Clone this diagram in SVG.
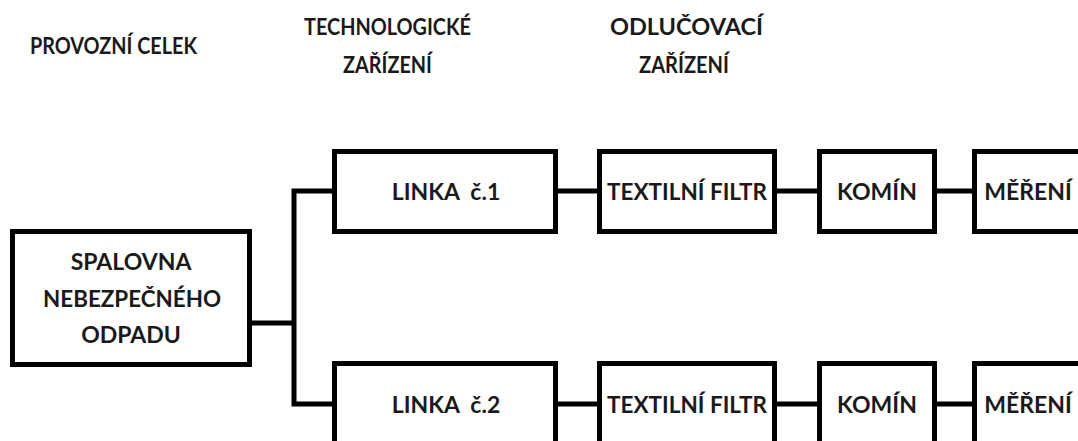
<svg xmlns="http://www.w3.org/2000/svg" width="1078" height="441" viewBox="0 0 1078 441">
<style>
.box{fill:#fff;stroke:#000;stroke-width:5}
.con{fill:none;stroke:#000;stroke-width:5;stroke-linejoin:miter;stroke-linecap:butt}
text{font-family:Lato,"Open Sans","Liberation Sans",sans-serif;font-weight:bold;font-size:23px;fill:#1a1a1a;text-anchor:middle}
.h{font-size:22px}
</style>
<rect width="1078" height="441" fill="#fff"/>
<g id="headers">
<text class="h" x="113.5" y="54" textLength="167" lengthAdjust="spacingAndGlyphs">PROVOZNÍ CELEK</text>
<text class="h" x="387.5" y="35" textLength="167" lengthAdjust="spacingAndGlyphs">TECHNOLOGICKÉ</text>
<text class="h" x="387.5" y="73" textLength="89" lengthAdjust="spacingAndGlyphs">ZAŘÍZENÍ</text>
<text class="h" x="686.5" y="35" textLength="153" lengthAdjust="spacingAndGlyphs">ODLUČOVACÍ</text>
<text class="h" x="684" y="73" textLength="90" lengthAdjust="spacingAndGlyphs">ZAŘÍZENÍ</text>
</g>
<g id="connectors">
<path class="con" d="M252 323 H294"/>
<path class="con" d="M334 191 H294 V404 H334"/>
<path class="con" d="M557 191 H598 M776 191 H818 M936 191 H973"/>
<path class="con" d="M557 404 H598 M776 404 H818 M936 404 H973"/>
</g>
<g id="spalovna">
<rect class="box" x="12.5" y="231.5" width="237" height="133"/>
<text x="131" y="270">SPALOVNA</text>
<text x="132" y="307" textLength="178" lengthAdjust="spacingAndGlyphs">NEBEZPEČNÉHO</text>
<text x="131" y="343">ODPADU</text>
</g>
<g id="linka1">
<rect class="box" x="334.5" y="151.5" width="221" height="80"/>
<text x="446" y="200" xml:space="preserve">LINKA  č.1</text>
</g>
<g id="filtr1">
<rect class="box" x="599.5" y="151.5" width="175" height="80"/>
<text x="687" y="200" textLength="160" lengthAdjust="spacingAndGlyphs">TEXTILNÍ FILTR</text>
</g>
<g id="komin1">
<rect class="box" x="819.5" y="151.5" width="115" height="80"/>
<text x="877" y="200">KOMÍN</text>
</g>
<g id="mereni1">
<rect class="box" x="974.5" y="151.5" width="120" height="80"/>
<text x="1028" y="200">MĚŘENÍ</text>
</g>
<g id="linka2">
<rect class="box" x="334.5" y="363.5" width="221" height="80"/>
<text x="446" y="413" xml:space="preserve">LINKA  č.2</text>
</g>
<g id="filtr2">
<rect class="box" x="599.5" y="363.5" width="175" height="80"/>
<text x="687" y="413" textLength="160" lengthAdjust="spacingAndGlyphs">TEXTILNÍ FILTR</text>
</g>
<g id="komin2">
<rect class="box" x="819.5" y="363.5" width="115" height="80"/>
<text x="877" y="413">KOMÍN</text>
</g>
<g id="mereni2">
<rect class="box" x="974.5" y="363.5" width="120" height="80"/>
<text x="1028" y="413">MĚŘENÍ</text>
</g>
</svg>
